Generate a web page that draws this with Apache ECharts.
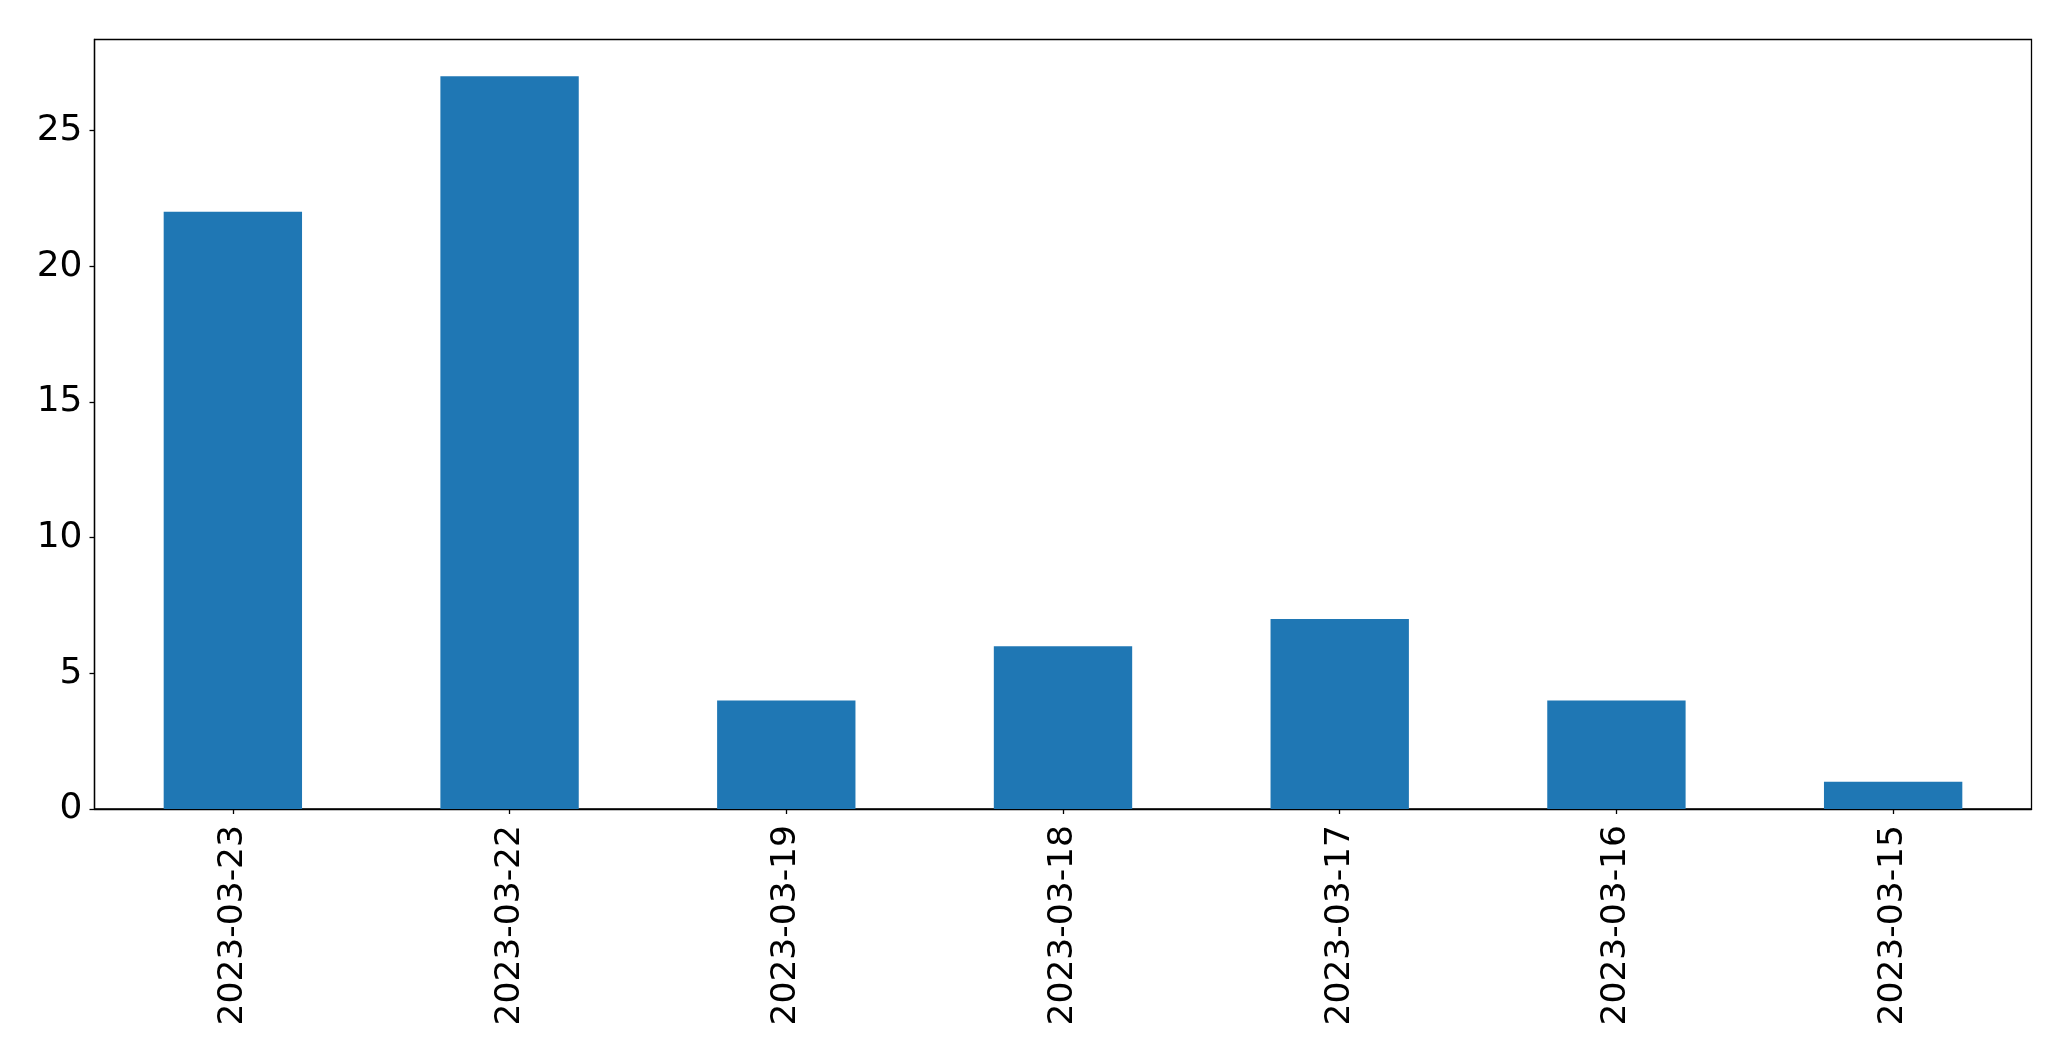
<!DOCTYPE html>
<html>
<head>
<meta charset="utf-8">
<script src="https://cdn.jsdelivr.net/npm/echarts@6/dist/echarts.min.js"></script>
<style>
html,body{margin:0;padding:0;background:#fff;}
#chart{width:2071px;height:1061px;}
</style>
</head>
<body>
<div id="chart"></div>
<script>
const categories = ['2023-03-23','2023-03-22','2023-03-19','2023-03-18','2023-03-17','2023-03-16','2023-03-15'];
const values = [22, 27, 4, 6, 7, 4, 1];
const yTicks = [0, 5, 10, 15, 20, 25];

const chart = echarts.init(document.getElementById('chart'), null, {renderer: 'canvas'});
chart.setOption({
  animation: false,
  backgroundColor: '#ffffff',
  grid: {
    left: 94.5, right: 39.5, top: 39.5, bottom: 252,
    show: true, borderColor: '#000', borderWidth: 1.3, backgroundColor: 'transparent'
  },
  xAxis: {
    type: 'category',
    data: categories,
    boundaryGap: true,
    axisLine: {show: true, lineStyle: {color: '#000', width: 1.3}},
    axisTick: {show: true, alignWithLabel: true, length: 5, lineStyle: {color: '#000', width: 1.3}},
    axisLabel: {
      rotate: 90, margin: 16, color: '#000', fontSize: 34.5,
      fontFamily: 'DejaVu Sans', interval: 0
    },
    splitLine: {show: false}
  },
  yAxis: {
    type: 'value',
    min: 0, max: 28.35,
    axisLine: {show: true, lineStyle: {color: '#000', width: 1.3}},
    axisTick: {show: true, length: 5, customValues: yTicks, lineStyle: {color: '#000', width: 1.3}},
    axisLabel: {
      customValues: yTicks, margin: 12, color: '#000', fontSize: 36,
      fontFamily: 'DejaVu Sans'
    },
    splitLine: {show: false}
  },
  series: [{
    type: 'bar',
    data: values,
    barWidth: '50%',
    itemStyle: {color: '#1f77b4'}
  }]
});
</script>
</body>
</html>
